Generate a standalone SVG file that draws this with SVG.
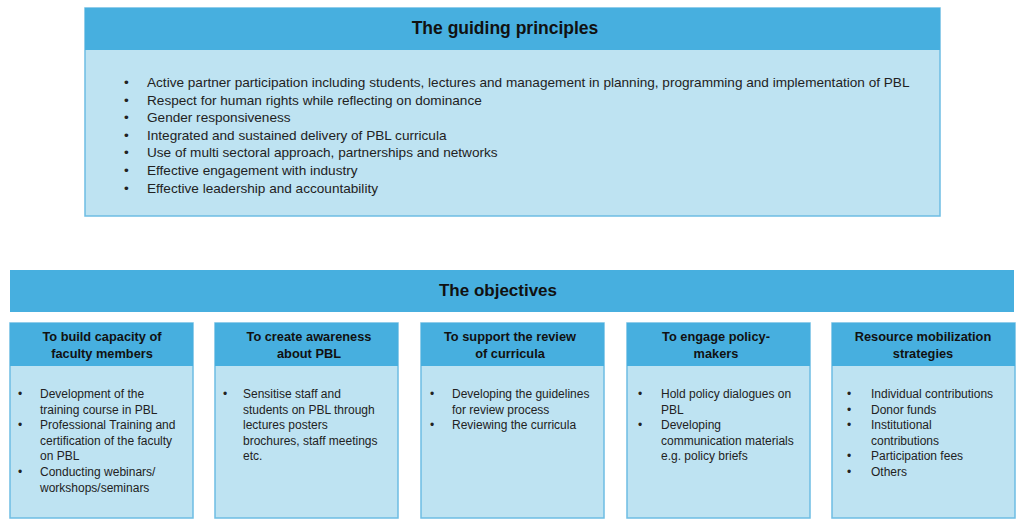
<svg xmlns="http://www.w3.org/2000/svg" width="1024" height="531" viewBox="0 0 1024 531">
<style>
.hd{fill:#47AFDF;}
.bd{fill:#BEE3F2;stroke:#6DBDE3;stroke-width:1.5;}
.title{font-family:"Liberation Sans",Arial,sans-serif;font-weight:bold;font-size:17.5px;fill:#111;text-anchor:middle;}
.otitle{font-family:"Liberation Sans",Arial,sans-serif;font-weight:bold;font-size:17px;fill:#111;text-anchor:middle;}
.gp{font-family:"Liberation Sans",Arial,sans-serif;font-size:13.6px;fill:#222;}
.bh{font-family:"Liberation Sans",Arial,sans-serif;font-weight:bold;font-size:12.8px;fill:#111;text-anchor:middle;}
.bt{font-family:"Liberation Sans",Arial,sans-serif;font-size:12px;fill:#222;}
</style>
<rect width="1024" height="531" fill="#ffffff"/>
<g id="guiding-principles">
<rect class="bd" x="85" y="8" width="855" height="208"/>
<rect class="hd" x="85" y="8" width="855" height="42"/>
<text class="title" x="505" y="34">The guiding principles</text>
<g class="gp">
<text x="124" y="87">•</text><text x="147" y="87">Active partner participation including students, lectures and management in planning, programming and implementation of PBL</text>
<text x="124" y="105">•</text><text x="147" y="105">Respect for human rights while reflecting on dominance</text>
<text x="124" y="122">•</text><text x="147" y="122">Gender responsiveness</text>
<text x="124" y="140">•</text><text x="147" y="140">Integrated and sustained delivery of PBL curricula</text>
<text x="124" y="157">•</text><text x="147" y="157">Use of multi sectoral approach, partnerships and networks</text>
<text x="124" y="175">•</text><text x="147" y="175">Effective engagement with industry</text>
<text x="124" y="193">•</text><text x="147" y="193">Effective leadership and accountability</text>
</g>
</g>
<g id="objectives">
<rect class="hd" x="10" y="270" width="1004" height="42"/>
<text class="otitle" x="498" y="296">The objectives</text>
</g>
<g id="obj-capacity">
<rect class="bd" x="10" y="323" width="183" height="195"/>
<rect class="hd" x="10" y="323" width="183" height="43"/>
<text class="bh" x="102" y="341">To build capacity of</text>
<text class="bh" x="102" y="358">faculty members</text>
<g class="bt">
<text x="18" y="398">•</text><text x="40" y="398">Development of the</text>
<text x="40" y="414">training course in PBL</text>
<text x="18" y="429">•</text><text x="40" y="429">Professional Training and</text>
<text x="40" y="445">certification of the faculty</text>
<text x="40" y="460">on PBL</text>
<text x="18" y="476">•</text><text x="40" y="476">Conducting webinars/</text>
<text x="40" y="492">workshops/seminars</text>
</g>
</g>
<g id="obj-awareness">
<rect class="bd" x="215" y="323" width="183" height="195"/>
<rect class="hd" x="215" y="323" width="183" height="43"/>
<text class="bh" x="309" y="341">To create awareness</text>
<text class="bh" x="309" y="358">about PBL</text>
<g class="bt">
<text x="223" y="398">•</text><text x="243" y="398">Sensitise staff and</text>
<text x="243" y="414">students on PBL through</text>
<text x="243" y="429">lectures posters</text>
<text x="243" y="445">brochures, staff meetings</text>
<text x="243" y="460">etc.</text>
</g>
</g>
<g id="obj-review">
<rect class="bd" x="421" y="323" width="183" height="195"/>
<rect class="hd" x="421" y="323" width="183" height="43"/>
<text class="bh" x="510" y="341">To support the review</text>
<text class="bh" x="510" y="358">of curricula</text>
<g class="bt">
<text x="430" y="398">•</text><text x="452" y="398">Developing the guidelines</text>
<text x="452" y="414">for review process</text>
<text x="430" y="429">•</text><text x="452" y="429">Reviewing the curricula</text>
</g>
</g>
<g id="obj-policy">
<rect class="bd" x="627" y="323" width="183" height="195"/>
<rect class="hd" x="627" y="323" width="183" height="43"/>
<text class="bh" x="716" y="341">To engage policy-</text>
<text class="bh" x="716" y="358">makers</text>
<g class="bt">
<text x="638" y="398">•</text><text x="661" y="398">Hold policy dialogues on</text>
<text x="661" y="414">PBL</text>
<text x="638" y="429">•</text><text x="661" y="429">Developing</text>
<text x="661" y="445">communication materials</text>
<text x="661" y="460">e.g. policy briefs</text>
</g>
</g>
<g id="obj-resources">
<rect class="bd" x="832" y="323" width="183" height="195"/>
<rect class="hd" x="832" y="323" width="183" height="43"/>
<text class="bh" x="923" y="341">Resource mobilization</text>
<text class="bh" x="923" y="358">strategies</text>
<g class="bt">
<text x="847" y="398">•</text><text x="871" y="398">Individual contributions</text>
<text x="847" y="414">•</text><text x="871" y="414">Donor funds</text>
<text x="847" y="429">•</text><text x="871" y="429">Institutional</text>
<text x="871" y="445">contributions</text>
<text x="847" y="460">•</text><text x="871" y="460">Participation fees</text>
<text x="847" y="476">•</text><text x="871" y="476">Others</text>
</g>
</g>
</svg>
